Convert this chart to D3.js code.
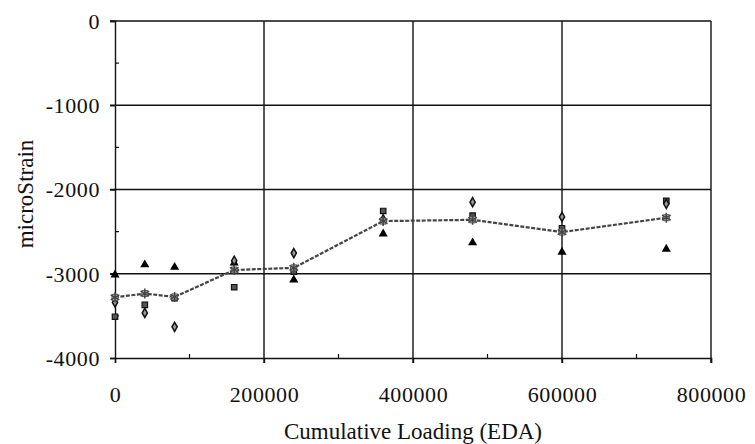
<!DOCTYPE html>
<html><head><meta charset="utf-8">
<script src="https://cdn.jsdelivr.net/npm/d3@7"></script>
<style>body{margin:0;background:#fff}svg{display:block}text{font-family:"Liberation Serif","Times New Roman",serif;fill:#111}</style>
</head><body><svg id="c" width="755" height="444"></svg>
<script>
const loading = [0, 40000, 80000, 160000, 240000, 360000, 480000, 600000, 740000];
const gaugeDiamond = [-3340, -3465, -3630, -2845, -2755, -2355, -2150, -2325, -2170];
const gaugeSquare = [-3510, -3370, -3290, -3160, -2975, -2255, -2310, -2460, -2135];
const gaugeTriangle = [-3000, -2880, -2910, -2860, -3060, -2515, -2620, -2730, -2695];
const gaugeAverage = [-3280, -3235, -3275, -2955, -2930, -2375, -2360, -2505, -2335];
const xTicks = [0, 200000, 400000, 600000, 800000];
const yTicks = [0, -1000, -2000, -3000, -4000];
const xMinor = [100000, 300000, 500000, 700000];
const yMinor = [-500, -1500, -2500, -3500];

const svg = d3.select("#c");
const L = 115, R = 711, T = 21, B = 358;
const x = d3.scaleLinear().domain([0, 800000]).range([L, R]);
const y = d3.scaleLinear().domain([-4000, 0]).range([B, T]);

// grid
const g = svg.append("g");
g.selectAll(".vg").data(xTicks.slice(1)).join("line")
  .attr("x1", d => x(d)).attr("x2", d => x(d)).attr("y1", T).attr("y2", B + 5)
  .attr("stroke", "#111").attr("stroke-width", 1.4);
g.selectAll(".hg").data(yTicks.slice(0, 4)).join("line")
  .attr("x1", L - 5).attr("x2", R).attr("y1", d => y(d)).attr("y2", d => y(d))
  .attr("stroke", "#111").attr("stroke-width", 1.4);

// axes
const fmt = d => String(d);
const xAxis = d3.axisBottom(x).tickValues(xTicks).tickSize(5).tickFormat(fmt);
const yAxis = d3.axisLeft(y).tickValues(yTicks).tickSize(5).tickFormat(fmt);
const gx = svg.append("g").attr("transform", `translate(0,${B})`).call(xAxis);
const gy = svg.append("g").attr("transform", `translate(${L},0)`).call(yAxis);
[gx, gy].forEach(a => {
  a.attr("font-family", "Liberation Serif").attr("font-size", 22);
  a.select(".domain").attr("stroke", "#111").attr("stroke-width", 1.4);
  a.selectAll(".tick line").attr("stroke", "#111").attr("stroke-width", 1.4);
  a.selectAll(".tick text").attr("fill", "#111").style("letter-spacing", "0.6px");
});
gx.selectAll(".tick text").attr("dy", 0).attr("y", 44);
gy.selectAll(".tick text").attr("x", -15).attr("dy", "0.33em");

// minor ticks
svg.append("g").selectAll("line").data(xMinor).join("line")
  .attr("x1", d => x(d)).attr("x2", d => x(d)).attr("y1", B).attr("y2", B - 4)
  .attr("stroke", "#111").attr("stroke-width", 1.2);
svg.append("g").selectAll("line").data(yMinor).join("line")
  .attr("x1", L).attr("x2", L + 4).attr("y1", d => y(d)).attr("y2", d => y(d))
  .attr("stroke", "#111").attr("stroke-width", 1.2);

// titles
svg.append("text").attr("x", (L + R) / 2).attr("y", 439).attr("text-anchor", "middle")
  .style("font-size", "23px").text("Cumulative Loading (EDA)");
svg.append("text").attr("transform", "translate(33,194) rotate(-90)").attr("text-anchor", "middle")
  .style("font-size", "23px").text("microStrain");

// series
const pts = arr => loading.map((v, i) => ({x: v, y: arr[i]}));
const sym = (type, size) => d3.symbol().type(type).size(size)();
svg.append("g").selectAll("path").data(pts(gaugeTriangle)).join("path")
  .attr("transform", d => `translate(${x(d.x)},${y(d.y) + 1})`)
  .attr("d", sym(d3.symbolTriangle, 36)).attr("fill", "#000");
svg.append("g").selectAll("path").data(pts(gaugeSquare)).join("path")
  .attr("transform", d => `translate(${x(d.x)},${y(d.y)})`)
  .attr("d", sym(d3.symbolSquare, 30)).attr("fill", "#555").attr("stroke", "#111").attr("stroke-width", 1.2);
svg.append("g").selectAll("path").data(pts(gaugeDiamond)).join("path")
  .attr("transform", d => `translate(${x(d.x)},${y(d.y)})`)
  .attr("d", sym(d3.symbolDiamond, 24)).attr("fill", "#999").attr("stroke", "#111").attr("stroke-width", 1.5);

// average line
const line = d3.line().x(d => x(d.x)).y(d => y(d.y));
svg.append("path").datum(pts(gaugeAverage)).attr("d", line)
  .attr("fill", "none").attr("stroke", "#444").attr("stroke-width", 2.2).attr("stroke-dasharray", "4,1.5");
const avg = svg.append("g").selectAll("g").data(pts(gaugeAverage)).join("g")
  .attr("transform", d => `translate(${x(d.x)},${y(d.y)})`);
avg.append("path").attr("d", sym(d3.symbolSquare, 36)).attr("fill", "#bbb").attr("stroke", "#555").attr("stroke-width", 1);
avg.append("path").attr("d", sym(d3.symbolAsterisk, 70)).attr("fill", "none").attr("stroke", "#444").attr("stroke-width", 1.5);
</script></body></html>
